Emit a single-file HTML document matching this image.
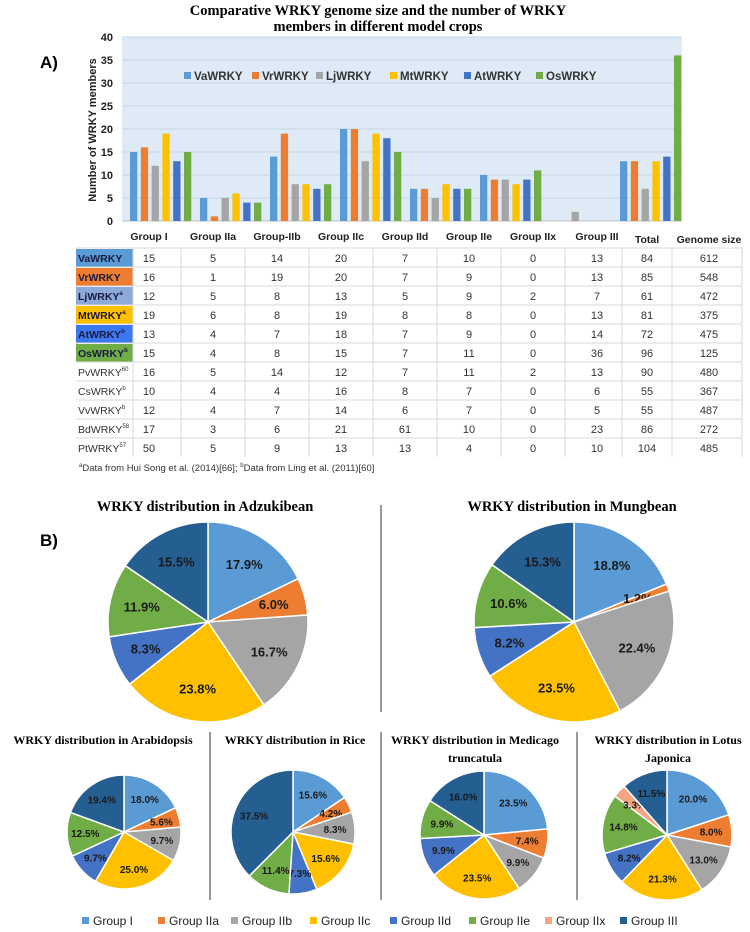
<!DOCTYPE html>
<html><head><meta charset="utf-8">
<style>
html,body{margin:0;padding:0;background:#fff;}
svg{display:block;font-family:"Liberation Sans",sans-serif;}
.serif{font-family:"Liberation Serif",serif;font-weight:bold;}
</style></head>
<body>
<svg id="fig" width="750" height="932" viewBox="0 0 750 932" xmlns="http://www.w3.org/2000/svg">
<text class="serif" x="378" y="15" text-anchor="middle" font-size="14.5">Comparative WRKY genome size and the number of WRKY</text>
<text class="serif" x="378" y="31" text-anchor="middle" font-size="14.5">members in different model crops</text>
<text x="40" y="68" font-size="17" font-weight="bold">A)</text>
<text x="40" y="546" font-size="17" font-weight="bold">B)</text>
<g id="bars"></g>
<g id="table"></g>
<text x="79" y="471" font-size="9.5" fill="#333"><tspan font-size="6" dy="-4">a</tspan><tspan dy="4">Data from Hui Song et al. (2014)[66]; </tspan><tspan font-size="6" dy="-4">b</tspan><tspan dy="4">Data from Ling et al. (2011)[60]</tspan></text>
<g id="pies"></g>
</svg>
<script>
// ---- bar chart data ----
var barCategories = ["Group I","Group IIa","Group-IIb","Group IIc","Group IId","Group IIe","Group IIx","Group III"];
var seriesNames = ["VaWRKY","VrWRKY","LjWRKY","MtWRKY","AtWRKY","OsWRKY"];
var vaValues = [15,5,14,20,7,10,0,13];
var vrValues = [16,1,19,20,7,9,0,13];
var ljValues = [12,5,8,13,5,9,2,7];
var mtValues = [19,6,8,19,8,8,0,13];
var atValues = [13,4,7,18,7,9,0,14];
var osValues = [15,4,8,15,7,11,0,36];
var yTicks = [0,5,10,15,20,25,30,35,40];
// ---- table data ----
var tableHeaders = ["Group I","Group IIa","Group-IIb","Group IIc","Group IId","Group IIe","Group IIx","Group III","Total","Genome size"];
var tableNames = ["VaWRKY","VrWRKY","LjWRKY","MtWRKY","AtWRKY","OsWRKY","PvWRKY","CsWRKY","VvWRKY","BdWRKY","PtWRKY"];
var tableSups = ["","","a","a","b","b","60","b","b","58","57"];
var tableRows = [
 [15,5,14,20,7,10,0,13,84,612],
 [16,1,19,20,7,9,0,13,85,548],
 [12,5,8,13,5,9,2,7,61,472],
 [19,6,8,19,8,8,0,13,81,375],
 [13,4,7,18,7,9,0,14,72,475],
 [15,4,8,15,7,11,0,36,96,125],
 [16,5,14,12,7,11,2,13,90,480],
 [10,4,4,16,8,7,0,6,55,367],
 [12,4,7,14,6,7,0,5,55,487],
 [17,3,6,21,61,10,0,23,86,272],
 [50,5,9,13,13,4,0,10,104,485]];
// ---- pie data (percent) ----
var pieLegend = ["Group I","Group IIa","Group IIb","Group IIc","Group IId","Group IIe","Group IIx","Group III"];
var adzukiPct = [17.9,6.0,16.7,23.8,8.3,11.9,0,15.5];
var mungPct = [18.8,1.2,22.4,23.5,8.2,10.6,0,15.3];
var arabPct = [18.0,5.6,9.7,25.0,9.7,12.5,0,19.4];
var ricePct = [15.6,4.2,8.3,15.6,7.3,11.4,0,37.5];
var medPct = [23.5,7.4,9.9,23.5,9.9,9.9,0,16.0];
var lotusPct = [20.0,8.0,13.0,21.3,8.2,14.8,3.3,11.5];

var NS="http://www.w3.org/2000/svg";
function mk(tag,attrs,parent){var e=document.createElementNS(NS,tag);for(var k in attrs)e.setAttribute(k,attrs[k]);parent.appendChild(e);return e;}
var seriesColors=["#5b9bd5","#ed7d31","#a5a5a5","#ffc000","#4472c4","#70ad47"];
var allSeries=[vaValues,vrValues,ljValues,mtValues,atValues,osValues];

// ---- bar chart ----
var bars=document.getElementById('bars');
var px0=122,px1=682,py0=221,py1=37,ymax=40;
function yS(v){return py0-(v/ymax)*(py0-py1);}
var catW=(px1-px0)/barCategories.length;
function xCat(i){return px0+i*catW;}
var bg=mk('rect',{x:px0,y:py1,width:px1-px0,height:py0-py1,fill:"#deebf7"},bars);


yTicks.forEach(function(t){
  if(t>0){var gl=mk('line',{x1:px0,x2:px1,y1:yS(t),y2:yS(t),stroke:"#c5d3e2","stroke-width":1},bars);
  
  }
  var tl=mk('text',{x:113,y:yS(t)+4,"text-anchor":"end","font-size":11,"font-weight":"bold",fill:"#222"},bars);
  tl.textContent=t;
  
  
});
var ax=mk('line',{x1:px0,x2:px1,y1:py0,y2:py0,stroke:"#bfbfbf"},bars);


var yt=mk('text',{x:0,y:0,transform:"translate(96,130) rotate(-90)","text-anchor":"middle","font-size":11,"font-weight":"bold",fill:"#222"},bars);
yt.textContent="Number of WRKY members";


var bw=7.3,bp=10.8;
barCategories.forEach(function(c,i){
  allSeries.forEach(function(s,j){
    var v=s[i]; if(v<=0) return;
    var r=mk('rect',{x:xCat(i)+8+j*bp,y:yS(v),width:bw,height:py0-yS(v),fill:seriesColors[j]},bars);
    
    
  });
});
var legX=[184,252,316,390,464,536];
seriesNames.forEach(function(n,j){
  var g=mk('g',{},bars);
  
  
  mk('rect',{x:legX[j],y:72,width:7,height:7,fill:seriesColors[j]},g);
  var t=mk('text',{x:legX[j]+10,y:80,"font-size":11.5,"font-weight":"bold",fill:"#333"},g);
  t.textContent=n;
});

// ---- table ----
var tbl=document.getElementById('table');
var colX=[149,213,277,341,405,469,533,597,647,709];
var nameColor=["#5b9bd5","#ed7d31","#8eaadb","#ffc000","#3c78f0","#70ad47"];
tableHeaders.forEach(function(h,i){
  var t=mk('text',{x:colX[i],y:(i>=8?243:240),"text-anchor":"middle","font-size":10.5,"font-weight":"bold",fill:"#222"},tbl);
  t.textContent=h;
  
  
});
var rowTop=248,rowH=19;
var vlines=[133,181,245,309,373,437,501,565,622,672,742];
tableNames.forEach(function(n,r){
  var y=rowTop+r*rowH;
  if(r<6){var c=mk('rect',{x:76,y:y+1,width:57,height:rowH-1,fill:nameColor[r]},tbl);
    
    }
  var hl=mk('line',{x1:76,x2:742,y1:y,y2:y,stroke:"#d9d9d9"},tbl);
  
  
  var t=mk('text',{x:78,y:y+14,"font-size":10.5,"font-weight":(r<6?"bold":"normal"),fill:(r<6?"#1a1a40":"#333")},tbl);
  
  
  t.appendChild(document.createTextNode(n));
  if(tableSups[r]){var s=mk('tspan',{"font-size":6,dy:-5},t);s.textContent=tableSups[r];}
  tableRows[r].forEach(function(v,i){
    var d=mk('text',{x:colX[i],y:y+14,"text-anchor":"middle","font-size":11,fill:"#333"},tbl);
    d.textContent=v;
    
    
  });
});
vlines.forEach(function(x){
  var l=mk('line',{x1:x,x2:x,y1:rowTop,y2:rowTop+rowH*tableNames.length,stroke:"#d9d9d9"},tbl);
  
  
});

// ---- pies ----
var pies=document.getElementById('pies');
var pieColors=["#5b9bd5","#ed7d31","#a5a5a5","#ffc000","#4472c4","#70ad47","#f4a582","#255e91"];
function drawPie(name,vals,cx,cy,r,fs){
  var g=mk('g',{},pies);
  
  
  var tot=vals.reduce(function(a,b){return a+b;},0),a=0;
  vals.forEach(function(v,i){
    if(v<=0) return;
    var a0=a/tot*2*Math.PI,a1=(a+v)/tot*2*Math.PI; a+=v;
    var x0=cx+r*Math.sin(a0),y0=cy-r*Math.cos(a0),x1=cx+r*Math.sin(a1),y1=cy-r*Math.cos(a1);
    var p=mk('path',{d:"M"+cx+","+cy+"L"+x0+","+y0+"A"+r+","+r+" 0 "+((a1-a0)>Math.PI?1:0)+" 1 "+x1+","+y1+"Z",fill:pieColors[i],stroke:"#fff","stroke-width":1.5},g);
    
    
    var am=(a0+a1)/2,lr=r*0.68;
    var t=mk('text',{x:cx+lr*Math.sin(am),y:cy-lr*Math.cos(am)+fs*0.35,"text-anchor":"middle","font-size":fs,"font-weight":"bold",fill:"#1a1a1a"},g);
    t.textContent=v.toFixed(1)+"%";
    
    
  });
}
drawPie('adzukibean',adzukiPct,208,622,100,13);
drawPie('mungbean',mungPct,574,622,100,13);
drawPie('arabidopsis',arabPct,124,832,57,10);
drawPie('rice',ricePct,293,832,62,10);
drawPie('medicago',medPct,484,835,64,10);
drawPie('lotus',lotusPct,667,835,65,10);
var titles=[["WRKY distribution in Adzukibean",205,511,14.5],["WRKY distribution in Mungbean",572,511,14.5],
 ["WRKY distribution in Arabidopsis",103,744,12],["WRKY distribution in Rice",295,744,12],
 ["WRKY distribution in Medicago",475,744,12],["truncatula",475,762,12],
 ["WRKY distribution in Lotus",668,744,12],["Japonica",668,762,12]];
titles.forEach(function(t){
  var e=mk('text',{x:t[1],y:t[2],"text-anchor":"middle","font-size":t[3],"class":"serif"},pies);
  e.textContent=t[0];
  
  
});
[[381,505,712],[210,732,900],[381,732,900],[577,732,900]].forEach(function(d){
  var l=mk('line',{x1:d[0],x2:d[0],y1:d[1],y2:d[2],stroke:"#333","stroke-width":1},pies);
  
  
});
var plx=[82,158,231,310,390,469,545,620];
pieLegend.forEach(function(n,i){
  var g=mk('g',{},pies);
  
  
  mk('rect',{x:plx[i],y:917,width:7,height:7,fill:pieColors[i]},g);
  var t=mk('text',{x:plx[i]+11,y:925,"font-size":12,fill:"#222"},g);
  t.textContent=n;
});
</script>
</body></html>
